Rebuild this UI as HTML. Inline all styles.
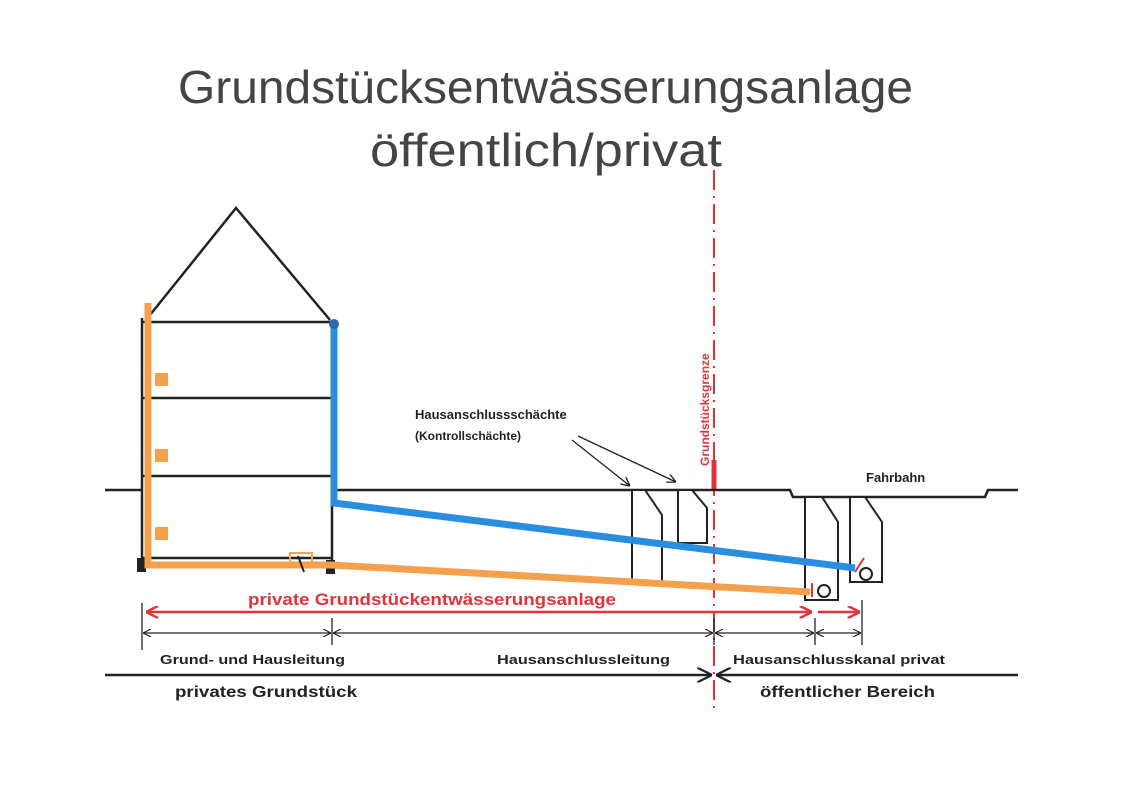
<!DOCTYPE html>
<html><head><meta charset="utf-8"><style>
html,body{margin:0;padding:0;background:#fff}
svg{display:block}
text{font-family:"Liberation Sans",Arial,sans-serif}
</style></head><body>
<svg width="1131" height="800" viewBox="0 0 1131 800" xmlns="http://www.w3.org/2000/svg">
<defs>
<marker id="ar" viewBox="0 0 10 10" refX="10" refY="5" markerWidth="5" markerHeight="5" orient="auto-start-reverse"><path d="M0,0 L10,5 L0,10" fill="none" stroke="#e0343c" stroke-width="2"/></marker>
<marker id="ab" viewBox="0 0 10 10" refX="10" refY="5" markerWidth="7" markerHeight="7" orient="auto-start-reverse"><path d="M0,0 L10,5 L0,10" fill="none" stroke="#222" stroke-width="1.5"/></marker>
<marker id="ab2" viewBox="0 0 10 10" refX="10" refY="5" markerWidth="6" markerHeight="6" orient="auto-start-reverse"><path d="M0,0 L10,5 L0,10" fill="none" stroke="#222" stroke-width="1.5"/></marker>
</defs>
<rect width="1131" height="800" fill="#fff"/>
<text x="178" y="103" font-size="46" fill="#444" textLength="735" lengthAdjust="spacingAndGlyphs">Grundstücksentwässerungsanlage</text>
<text x="370" y="166" font-size="46" fill="#444" textLength="352" lengthAdjust="spacingAndGlyphs">öffentlich/privat</text>

<!-- red boundary -->
<line x1="714" y1="170" x2="714" y2="712" stroke="#e0343c" stroke-width="2" stroke-dasharray="20,6,2,6"/>
<line x1="714" y1="460" x2="714" y2="490" stroke="#e0343c" stroke-width="5"/>
<text transform="translate(709,466) rotate(-90)" font-size="12" font-weight="bold" fill="#e0343c">Grundstücksgrenze</text>

<!-- house -->
<g stroke="#222" stroke-width="2.5" fill="none">
<polyline points="150,315 236,208 330,320"/>
<line x1="142" y1="322" x2="334" y2="322"/>
<line x1="142" y1="398" x2="332" y2="398"/>
<line x1="142" y1="476" x2="332" y2="476"/>
<line x1="142" y1="558" x2="332" y2="558"/>
<line x1="142" y1="318" x2="142" y2="570"/>
<line x1="332" y1="500" x2="332" y2="570"/>
<polyline points="105,490 142,490"/>
<polyline points="332,490 790,490 793,497 985,497 988,490 1018,490"/>
</g>
<rect x="137" y="558" width="9" height="14" fill="#222"/>
<rect x="326" y="560" width="9" height="14" fill="#222"/>

<!-- shafts -->
<g stroke="#222" stroke-width="2" fill="#fff">
<polygon points="632,490 645,490 662,515 662,583 632,583"/>
<polygon points="678,490 692,490 707,508 707,543 678,543"/>
<polygon points="805,497 822,497 838,522 838,600 805,600"/>
<polygon points="850,497 865,497 882,522 882,582 850,582"/>
</g>

<!-- pipes -->
<polyline points="148,303 148,565 332,565 810,592" fill="none" stroke="#f4a04c" stroke-width="7"/>
<g fill="#f4a04c"><rect x="155" y="373" width="13" height="13"/><rect x="155" y="449" width="13" height="13"/><rect x="155" y="527" width="13" height="13"/></g>
<rect x="290" y="553" width="22" height="10" fill="none" stroke="#f4a04c" stroke-width="2"/>
<line x1="298" y1="556" x2="304" y2="572" stroke="#222" stroke-width="2"/>
<polyline points="334,322 334,503 855,568" fill="none" stroke="#2a8ee0" stroke-width="7"/>
<circle cx="334" cy="324" r="5" fill="#2a6ab0"/>
<circle cx="824" cy="591" r="6" fill="#fff" stroke="#222" stroke-width="2"/>
<circle cx="866" cy="574" r="6" fill="#fff" stroke="#222" stroke-width="2"/>
<line x1="812" y1="583" x2="812" y2="597" stroke="#e0343c" stroke-width="2"/>
<line x1="855" y1="572" x2="864" y2="558" stroke="#e0343c" stroke-width="2"/>

<!-- labels -->
<text x="415" y="419" font-size="13" font-weight="bold" fill="#222">Hausanschlussschächte</text>
<text x="415" y="440" font-size="12" font-weight="bold" fill="#222">(Kontrollschächte)</text>
<line x1="572" y1="440" x2="630" y2="486" stroke="#222" stroke-width="1.3" marker-end="url(#ab)"/>
<line x1="578" y1="436" x2="676" y2="482" stroke="#222" stroke-width="1.3" marker-end="url(#ab)"/>
<text x="866" y="482" font-size="13" font-weight="bold" fill="#222">Fahrbahn</text>

<!-- red dim -->
<line x1="146" y1="612" x2="812" y2="612" stroke="#e0343c" stroke-width="2.5" marker-start="url(#ar)" marker-end="url(#ar)"/>
<line x1="818" y1="612" x2="860" y2="612" stroke="#e0343c" stroke-width="2.5" marker-end="url(#ar)"/>
<text x="432" y="605" font-size="17" font-weight="bold" fill="#e0343c" text-anchor="middle" textLength="368" lengthAdjust="spacingAndGlyphs">private Grundstückentwässerungsanlage</text>

<!-- black dim -->
<g stroke="#222" stroke-width="1.3">
<line x1="142" y1="603" x2="142" y2="650"/><line x1="332" y1="618" x2="332" y2="645"/><line x1="714" y1="618" x2="714" y2="645"/><line x1="815" y1="618" x2="815" y2="645"/><line x1="862" y1="600" x2="862" y2="645"/>
<line x1="143" y1="633" x2="331" y2="633" marker-start="url(#ab2)" marker-end="url(#ab2)"/>
<line x1="333" y1="633" x2="713" y2="633" marker-start="url(#ab2)" marker-end="url(#ab2)"/>
<line x1="715" y1="633" x2="814" y2="633" marker-start="url(#ab2)" marker-end="url(#ab2)"/>
<line x1="816" y1="633" x2="861" y2="633" marker-start="url(#ab2)" marker-end="url(#ab2)"/>
</g>
<text x="160" y="664" font-size="13" font-weight="bold" fill="#222" textLength="185" lengthAdjust="spacingAndGlyphs">Grund- und Hausleitung</text>
<text x="497" y="664" font-size="13" font-weight="bold" fill="#222" textLength="173" lengthAdjust="spacingAndGlyphs">Hausanschlussleitung</text>
<text x="733" y="664" font-size="13" font-weight="bold" fill="#222" textLength="212" lengthAdjust="spacingAndGlyphs">Hausanschlusskanal privat</text>

<line x1="105" y1="675" x2="712" y2="675" stroke="#222" stroke-width="2.5" marker-end="url(#ab2)"/>
<line x1="1018" y1="675" x2="716" y2="675" stroke="#222" stroke-width="2.5" marker-end="url(#ab2)"/>
<text x="175" y="697" font-size="16" font-weight="bold" fill="#222" textLength="182" lengthAdjust="spacingAndGlyphs">privates Grundstück</text>
<text x="760" y="697" font-size="16" font-weight="bold" fill="#222" textLength="175" lengthAdjust="spacingAndGlyphs">öffentlicher Bereich</text>
</svg>
</body></html>
